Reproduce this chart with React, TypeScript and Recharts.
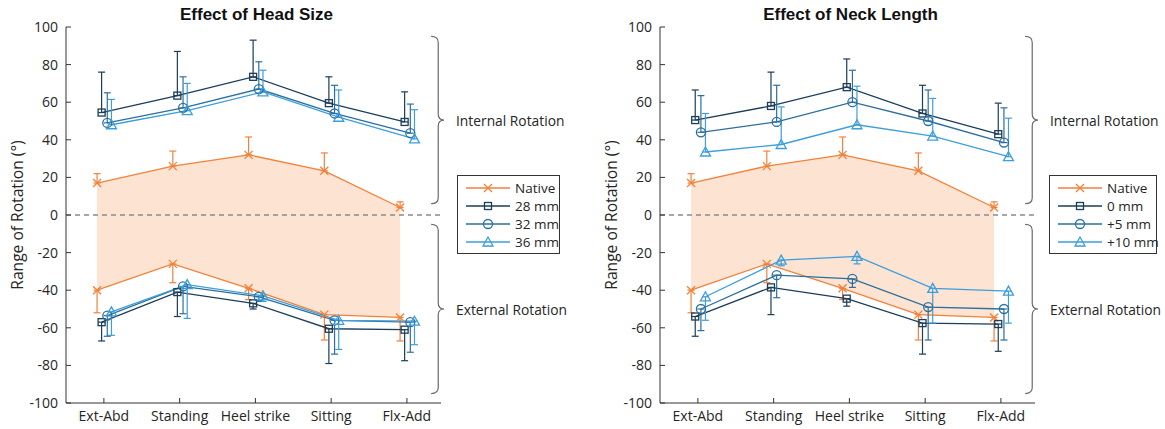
import React from 'react';
import {
  ComposedChart,
  Line,
  Area,
  XAxis,
  YAxis,
  ErrorBar,
  ReferenceLine,
  ReferenceArea,
} from 'recharts';

const categories = ['Ext-Abd', 'Standing', 'Heel strike', 'Sitting', 'Flx-Add'];
const yTicks = [-100, -80, -60, -40, -20, 0, 20, 40, 60, 80, 100];

// native hip, same in both panels
const nativeInt = [17, 26, 32, 23.5, 4];
const nativeIntHi = [22, 34, 41.5, 33, 7];
const nativeExt = [-40, -26, -39, -53, -54.5];
const nativeExtLo = [-52, -36, -45, -66.5, -67];

// head size panel
const head28Int = [54.5, 63.5, 73.5, 59.5, 49.5];
const head28IntHi = [76, 87, 93, 73.5, 65.5];
const head32Int = [49, 57, 67, 54, 43.5];
const head32IntHi = [65, 73.5, 81.5, 69, 59];
const head36Int = [48, 55.5, 65.5, 52, 40.5];
const head36IntHi = [61.5, 70, 77, 66.5, 56];
const head28Ext = [-57, -41, -47, -60.5, -61];
const head28ExtLo = [-67, -54, -50, -79, -77.5];
const head32Ext = [-53.5, -38, -43.5, -56, -57];
const head32ExtLo = [-64.5, -52.5, -45.5, -74, -73];
const head36Ext = [-51.5, -37, -43, -56, -56.5];
const head36ExtLo = [-64, -55, -46, -71.5, -69];

// neck length panel
const neck0Int = [50.5, 58, 68, 54, 43];
const neck0IntHi = [66.5, 76, 83, 69, 59.5];
const neck5Int = [44, 49.5, 60, 50, 38.5];
const neck5IntHi = [63.5, 69, 77, 66.5, 57];
const neck10Int = [33.5, 37.5, 48, 42, 31];
const neck10IntHi = [54, 57.5, 68.5, 62, 51.5];
const neck0Ext = [-54, -38.5, -44.5, -57.5, -58];
const neck0ExtLo = [-64.5, -53, -48.5, -74, -72.5];
const neck5Ext = [-50, -32, -34, -49, -50];
const neck5ExtLo = [-61.5, -44, -38.5, -66.5, -66.5];
const neck10Ext = [-43.5, -24, -22, -39, -40.5];
const neck10ExtLo = [-56, -27, -26, -57.5, -57.5];

const ORANGE = '#f4813a';
const SHADE = '#fde3d1';
const DARK = '#1d3d59';
const MID = '#2c6f9e';
const LIGHT = '#3d9edc';
const FONT = "'Open Sans', sans-serif";

type Marker = 'x' | 'square' | 'circle' | 'triangle';

interface Group {
  name: string;
  color: string;
  marker: Marker;
  offset: number;
  int: number[];
  intHi: number[];
  ext: number[];
  extLo: number[];
}

const toPoints = (vals: number[], ends: number[], offset: number) =>
  vals.map((v, i) => ({
    x: i + 1 + offset,
    y: v,
    err: v >= 0 ? [0, ends[i] - v] : [v - ends[i], 0],
  }));

function markerShape(kind: Marker, cx: number, cy: number, color: string, key?: any) {
  const sw = 1.3;
  if (kind === 'x') {
    const s = 4;
    return (
      <path key={key} d={`M${cx - s},${cy - s}L${cx + s},${cy + s}M${cx - s},${cy + s}L${cx + s},${cy - s}`}
        stroke={color} strokeWidth={sw} fill="none" />
    );
  }
  if (kind === 'square') {
    return <rect key={key} x={cx - 3.5} y={cy - 3.5} width={7} height={7} stroke={color} strokeWidth={sw} fill="none" />;
  }
  if (kind === 'circle') {
    return <circle key={key} cx={cx} cy={cy} r={4.5} stroke={color} strokeWidth={sw} fill="none" />;
  }
  return (
    <path key={key} d={`M${cx},${cy - 5}L${cx + 5},${cy + 4}L${cx - 5},${cy + 4}Z`}
      stroke={color} strokeWidth={sw} fill="none" />
  );
}

const dotFor = (kind: Marker, color: string) => (p: any) => {
  if (p.cx == null || p.cy == null) return <g key={p.index} />;
  return markerShape(kind, p.cx, p.cy, color, p.index);
};

const Brace = (label: string) => (p: any) => {
  const { x, y, width, height } = p;
  const x0 = x;
  const x1 = x + width * 0.55;
  const x2 = x + width;
  const mid = y + height / 2;
  const r = 6;
  const d = `M${x0},${y} Q${x1},${y} ${x1},${y + r} L${x1},${mid - r} Q${x1},${mid} ${x2},${mid} ` +
    `Q${x1},${mid} ${x1},${mid + r} L${x1},${y + height - r} Q${x1},${y + height} ${x0},${y + height}`;
  return (
    <g>
      <path d={d} stroke="#6b6b6b" strokeWidth={1.2} fill="none" />
      <text x={x2 + 12} y={mid} dominantBaseline="central" fontSize={13.8}
        fontFamily={FONT} fill="#262626">{label}</text>
    </g>
  );
};

function Legend({ groups, left, width }: { groups: Group[]; left: number; width: number }) {
  return (
    <div style={{
      position: 'absolute', left, top: 175, width, height: 79, border: '1px solid #333',
      background: '#fff', boxSizing: 'border-box', padding: '3px 0 0 8px',
      fontFamily: FONT, fontSize: 13.5, color: '#262626', whiteSpace: 'nowrap',
    }}>
      {groups.map((g) => (
        <div key={g.name} style={{ display: 'flex', alignItems: 'center', height: 18 }}>
          <svg width={44} height={14} style={{ marginRight: 5, flexShrink: 0 }}>
            <line x1={0} y1={7} x2={44} y2={7} stroke={g.color} strokeWidth={1.3} />
            {markerShape(g.marker, 22, 7, g.color)}
          </svg>
          <span>{g.name}</span>
        </div>
      ))}
    </div>
  );
}

function Panel({ left, title, groups, legendLeft, legendWidth }: {
  left: number; title: string; groups: Group[]; legendLeft: number; legendWidth: number;
}) {
  const native = groups[0];
  const shade = native.int.map((v, i) => ({ x: i + 1 + native.offset, range: [native.ext[i], v] }));
  return (
    <div style={{ position: 'absolute', left, top: 0, width: 582, height: 429 }}>
      <div style={{
        position: 'absolute', left: 69, top: 5, width: 375, textAlign: 'center',
        fontFamily: "'Liberation Sans', Arial, sans-serif", fontWeight: 'bold', fontSize: 17, color: '#111',
        lineHeight: '20px',
      }}>{title}</div>
      <ComposedChart width={582} height={429} margin={{ top: 27, right: 141, bottom: 0, left: 0 }}>
        <XAxis type="number" dataKey="x" domain={[0.5, 5.45]} ticks={[1, 2, 3, 4, 5]} allowDataOverflow
          tickFormatter={(v: number) => categories[v - 1]} height={26} interval={0}
          tickSize={-5} tickMargin={13} stroke="#333"
          tick={{ fill: '#262626', fontSize: 14, fontFamily: FONT }} />
        <YAxis type="number" domain={[-100, 100]} ticks={yTicks} width={66} interval={0}
          tickSize={-5} tickMargin={13} stroke="#333"
          tick={{ fill: '#262626', fontSize: 14, fontFamily: FONT }}
          label={{
            content: (lp: any) => {
              const vb = lp.viewBox || { x: 0, y: 27, height: 376 };
              const cx = vb.x + 17;
              const cy = vb.y + vb.height / 2;
              return (
                <text x={cx} y={cy} transform={`rotate(-90 ${cx} ${cy})`} textAnchor="middle"
                  dominantBaseline="central" fontSize={15.6} fontFamily={FONT} fill="#262626">
                  Range of Rotation (°)
                </text>
              );
            },
          }} />
        <Area data={shade} dataKey="range" type="linear" stroke="none" fill={SHADE} fillOpacity={1}
          isAnimationActive={false} activeDot={false} />
        <ReferenceLine y={0} stroke="#8a8a8a" strokeDasharray="5 4" strokeWidth={1.3} />
        <ReferenceArea x1={5.32} x2={5.49} y1={6} y2={95} ifOverflow="visible"
          shape={Brace('Internal Rotation')} />
        <ReferenceArea x1={5.32} x2={5.49} y1={-95} y2={-5} ifOverflow="visible"
          shape={Brace('External Rotation')} />
        {groups.map((g) => (
          <Line key={g.name + '-int'} data={toPoints(g.int, g.intHi, g.offset)} dataKey="y" type="linear"
            stroke={g.color} strokeWidth={1.3} dot={dotFor(g.marker, g.color)} activeDot={false}
            isAnimationActive={false}>
            <ErrorBar dataKey="err" width={3.5} stroke={g.color} strokeWidth={1.2} direction="y" />
          </Line>
        ))}
        {groups.map((g) => (
          <Line key={g.name + '-ext'} data={toPoints(g.ext, g.extLo, g.offset)} dataKey="y" type="linear"
            stroke={g.color} strokeWidth={1.3} dot={dotFor(g.marker, g.color)} activeDot={false}
            isAnimationActive={false}>
            <ErrorBar dataKey="err" width={3.5} stroke={g.color} strokeWidth={1.2} direction="y" />
          </Line>
        ))}
      </ComposedChart>
      <Legend groups={groups} left={legendLeft} width={legendWidth} />
    </div>
  );
}

const nativeGroup: Group = {
  name: 'Native', color: ORANGE, marker: 'x', offset: -0.09,
  int: nativeInt, intHi: nativeIntHi, ext: nativeExt, extLo: nativeExtLo,
};

const headGroups: Group[] = [
  nativeGroup,
  { name: '28 mm', color: DARK, marker: 'square', offset: -0.03, int: head28Int, intHi: head28IntHi, ext: head28Ext, extLo: head28ExtLo },
  { name: '32 mm', color: MID, marker: 'circle', offset: 0.045, int: head32Int, intHi: head32IntHi, ext: head32Ext, extLo: head32ExtLo },
  { name: '36 mm', color: LIGHT, marker: 'triangle', offset: 0.1, int: head36Int, intHi: head36IntHi, ext: head36Ext, extLo: head36ExtLo },
];

const neckGroups: Group[] = [
  nativeGroup,
  { name: '0 mm', color: DARK, marker: 'square', offset: -0.035, int: neck0Int, intHi: neck0IntHi, ext: neck0Ext, extLo: neck0ExtLo },
  { name: '+5 mm', color: MID, marker: 'circle', offset: 0.04, int: neck5Int, intHi: neck5IntHi, ext: neck5Ext, extLo: neck5ExtLo },
  { name: '+10 mm', color: LIGHT, marker: 'triangle', offset: 0.1, int: neck10Int, intHi: neck10IntHi, ext: neck10Ext, extLo: neck10ExtLo },
];

export default function App() {
  return (
    <div style={{
      position: 'absolute', left: 0, top: 0, width: 1165, height: 429, overflow: 'hidden', background: '#fff',
    }}>
      <Panel left={0} title="Effect of Head Size" groups={headGroups} legendLeft={457} legendWidth={103} />
      <Panel left={594} title="Effect of Neck Length" groups={neckGroups} legendLeft={455} legendWidth={108} />
    </div>
  );
}
